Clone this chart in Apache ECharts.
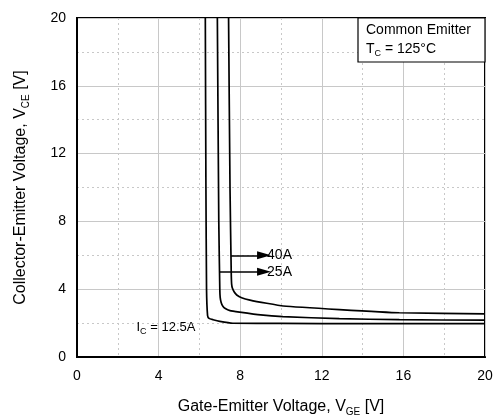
<!DOCTYPE html>
<html><head><meta charset="utf-8">
<script src="https://cdn.jsdelivr.net/npm/echarts@6/dist/echarts.min.js"></script>
<style>html,body{margin:0;padding:0;background:#fff}#c{width:499px;height:418px}</style>
</head><body><div id="c"></div>
<script>
var xTicks = [0, 4, 8, 12, 16, 20];
var yTicks = [0, 4, 8, 12, 16, 20];
var ic125X = [6.29, 6.32, 6.35, 6.40, 6.47, 6.67, 7.0, 7.64, 10, 14, 20];
var ic125Y = [20, 10, 4, 2.45, 2.28, 2.2, 2.1, 1.99, 1.98, 1.97, 1.97];
var ic25X = [6.88, 6.95, 7.0, 7.02, 7.07, 7.15, 7.27, 7.5, 7.97, 9.0, 10.09, 12.86, 15.8, 20];
var ic25Y = [20, 8, 4.0, 3.5, 3.2, 3.0, 2.86, 2.74, 2.65, 2.48, 2.38, 2.26, 2.2, 2.17];
var ic40X = [7.43, 7.5, 7.56, 7.58, 7.62, 7.7, 7.83, 8.07, 8.48, 9.3, 10.11, 12.86, 15.8, 20];
var ic40Y = [20, 10, 5, 4.3, 4.05, 3.85, 3.66, 3.5, 3.36, 3.17, 3.01, 2.8, 2.61, 2.54];
var arrowLabels = ['40A', '25A'];
var arrowY = [6.0, 5.03];
var arrowFromX = [7.55, 6.97];
var arrowToX = [9.17, 9.17];

function pairs(xs, ys) { return xs.map(function (x, i) { return [x, ys[i]]; }); }
var font = 'Liberation Sans, Arial, sans-serif';
var lineStyle = { color: '#000', width: 1.7 };
function sub(size) { return { fontSize: size, fontFamily: font, color: '#000', verticalAlign: 'bottom', padding: [size, 0, 0, 0] }; }
function main(size) { return { fontSize: size, fontFamily: font, color: '#000' }; }

var arrowLines = arrowLabels.map(function (t, i) {
  return [{ coord: [arrowFromX[i], arrowY[i]] }, { coord: [arrowToX[i], arrowY[i]], label: { formatter: t } }];
});

var chart = echarts.init(document.getElementById('c'));
chart.setOption({
  animation: false,
  grid: { left: 77, right: 14, top: 18, bottom: 61, outerBoundsMode: 'none', containLabel: false, show: true, borderColor: '#000', borderWidth: 2, backgroundColor: 'transparent' },
  xAxis: {
    type: 'value', min: xTicks[0], max: xTicks[xTicks.length - 1], interval: 4,
    name: '{a|Gate-Emitter Voltage, V}{s|GE}{a| [V]}', nameLocation: 'middle', nameGap: 40,
    nameTextStyle: { rich: { a: main(16), s: sub(10) } },
    axisLine: { lineStyle: { color: '#000', width: 2 } },
    axisTick: { show: false },
    axisLabel: { fontSize: 14, fontFamily: font, color: '#000', margin: 12 },
    splitLine: { lineStyle: { color: '#c8c8c8', width: 1 } },
    minorTick: { show: false, splitNumber: 2 },
    minorSplitLine: { show: true, lineStyle: { color: '#c8c8c8', type: [2, 3], width: 1 } }
  },
  yAxis: {
    type: 'value', min: yTicks[0], max: yTicks[yTicks.length - 1], interval: 4,
    name: '{a|Collector-Emitter Voltage, V}{s|CE}{a| [V]}', nameLocation: 'middle', nameGap: 46,
    nameTextStyle: { rich: { a: main(16), s: sub(10) } },
    axisLine: { lineStyle: { color: '#000', width: 2 } },
    axisTick: { show: false },
    axisLabel: { fontSize: 14, fontFamily: font, color: '#000', margin: 11 },
    splitLine: { lineStyle: { color: '#c8c8c8', width: 1 } },
    minorTick: { show: false, splitNumber: 2 },
    minorSplitLine: { show: true, lineStyle: { color: '#c8c8c8', type: [2, 3], width: 1 } }
  },
  series: [
    { type: 'line', data: pairs(ic125X, ic125Y), showSymbol: false, smooth: 0.15, lineStyle: lineStyle,
      markPoint: { symbol: 'circle', symbolSize: 0, data: [{ coord: [4.36, 1.77], value: 0 }],
        label: { show: true, position: 'inside', formatter: '{a|I}{s|C}{a| = 12.5A}', rich: { a: main(13), s: sub(9) } } } },
    { type: 'line', data: pairs(ic25X, ic25Y), showSymbol: false, smooth: 0.15, lineStyle: lineStyle,
      markLine: { silent: true, symbol: ['none', 'triangle'], symbolSize: [8, 14],
        lineStyle: { color: '#000', width: 1.5, type: 'solid' },
        label: { show: true, position: 'end', distance: 3, fontSize: 14, fontFamily: font, color: '#000' },
        data: arrowLines } },
    { type: 'line', data: pairs(ic40X, ic40Y), showSymbol: false, smooth: 0.15, lineStyle: lineStyle }
  ],
  graphic: [
    { type: 'rect', shape: { x: 358, y: 18, width: 127, height: 44 }, style: { fill: '#fff', stroke: '#000', lineWidth: 1.2 }, z: 100 },
    { type: 'text', x: 366, y: 23, z: 101, style: { text: 'Common Emitter', font: '14px ' + font, fill: '#000' } },
    { type: 'text', x: 366, y: 40, z: 101, style: { text: '{a|T}{s|C}{a| = 125°C}', rich: { a: main(14), s: sub(9) } } }
  ]
});
</script></body></html>
